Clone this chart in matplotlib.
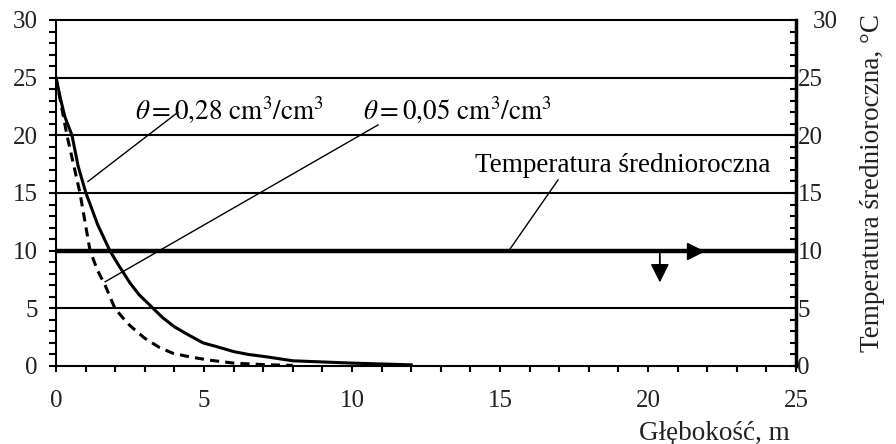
import matplotlib
matplotlib.use('Agg')
import matplotlib.pyplot as plt
from matplotlib.ticker import MultipleLocator

plt.rcParams['font.family'] = ['Liberation Serif', 'DejaVu Serif']
plt.rcParams['mathtext.fontset'] = 'stix'

# temperature vs depth
depth_wet = [0, 0.14, 0.3, 0.54, 0.75, 1.01, 1.2, 1.4, 1.6, 1.82, 2.1, 2.5, 2.8, 3.28, 3.6,
             4.0, 4.4, 4.97, 5.4, 6.0, 6.5, 7.1, 8.0, 9.0, 10.0, 12.0]
temp_wet = [25, 23.3, 21.6, 20, 17.3, 15, 13.7, 12.3, 11.2, 10, 8.8, 7.2, 6.2, 5, 4.2,
            3.4, 2.8, 2, 1.7, 1.25, 1.0, 0.8, 0.45, 0.35, 0.25, 0.1]
depth_dry = [0, 0.37, 0.81, 1.15, 1.4, 1.66, 1.99, 2.25, 2.5, 3.0, 3.5, 3.95, 4.5, 5.2, 6.0, 7.0, 8.0]
temp_dry = [25, 20, 15, 10, 8.3, 7, 5, 4.2, 3.5, 2.4, 1.6, 1.1, 0.8, 0.5, 0.25, 0.12, 0.05]

mean_temp = 10
grid_levels = [5, 15, 20, 25, 30]

fig = plt.figure(figsize=(8.96, 4.44), dpi=100)
ax = fig.add_axes([0.0625, 0.1757, 0.8259, 0.7793])
ax.set_xlim(0, 25)
ax.set_ylim(0, 30)

for g in grid_levels:
    ax.axhline(g, color='k', lw=1.5, clip_on=False, zorder=1)
ax.axhline(mean_temp, color='k', lw=3.2, zorder=2)

ax.plot(depth_wet, temp_wet, color='k', lw=2.2, zorder=3)
ax.plot(depth_dry, temp_dry, color='k', lw=2.2, ls=(0, (3, 2)), zorder=3)

# arrows on the mean-temperature line
ax.plot([21.6], [mean_temp], marker='>', ms=11, color='k', zorder=4)
ax.annotate('', xy=(20.4, 7.0), xytext=(20.4, mean_temp),
            arrowprops=dict(arrowstyle='-|>', color='k', lw=1.3, mutation_scale=28))

# labels with leader lines
ax.text(2.67, 22.2, r'$\theta = 0{,}28\ \mathrm{cm^3/cm^3}$', fontsize=19.5, va='center')
ax.plot([4.12, 1.08], [22.0, 16.0], color='k', lw=1)
ax.text(10.37, 22.2, r'$\theta = 0{,}05\ \mathrm{cm^3/cm^3}$', fontsize=19.5, va='center')
ax.plot([10.88, 1.66], [20.9, 7.3], color='k', lw=1)
ax.text(14.15, 17.4, 'Temperatura średnioroczna', fontsize=19.5, va='center')
ax.plot([16.96, 15.3], [16.13, 10.0], color='k', lw=1)

for s in ['top', 'right']:
    ax.spines[s].set_visible(False)
for s in ['left', 'bottom']:
    ax.spines[s].set_linewidth(1.5)

ax.set_xticks(range(0, 26, 5))
ax.set_yticks(range(0, 31, 5))
ax.xaxis.set_minor_locator(MultipleLocator(1))
ax.yaxis.set_minor_locator(MultipleLocator(1))
ax.tick_params(axis='x', which='both', length=4, width=1.5, labelsize=18, pad=13)
ax.tick_params(axis='y', which='both', length=5, width=1.5, labelsize=18, pad=8)
ax.tick_params(which='both', color='k', labelcolor='#222222')

ax2 = ax.twinx()
ax2.set_ylim(0, 30)
ax2.set_yticks(range(0, 31, 5))
ax2.yaxis.set_minor_locator(MultipleLocator(1))
for s in ['top', 'left', 'bottom']:
    ax2.spines[s].set_visible(False)
ax2.spines['right'].set_linewidth(2.5)
ax2.tick_params(axis='y', which='both', direction='in', length=4, width=1.5,
                labelsize=18, pad=1, labelcolor='#222222')
ax2.yaxis.get_major_ticks()[-1].set_pad(12)

ax.text(0.992, -0.194, 'Głębokość, m', transform=ax.transAxes, ha='right', va='center',
        fontsize=19.5, color='#222222')
fig.text(0.974, 0.588, 'Temperatura średnioroczna, °C', rotation=90, ha='center', va='center',
         fontsize=19.5, color='#222222')

fig.savefig('out.png', dpi=100)
